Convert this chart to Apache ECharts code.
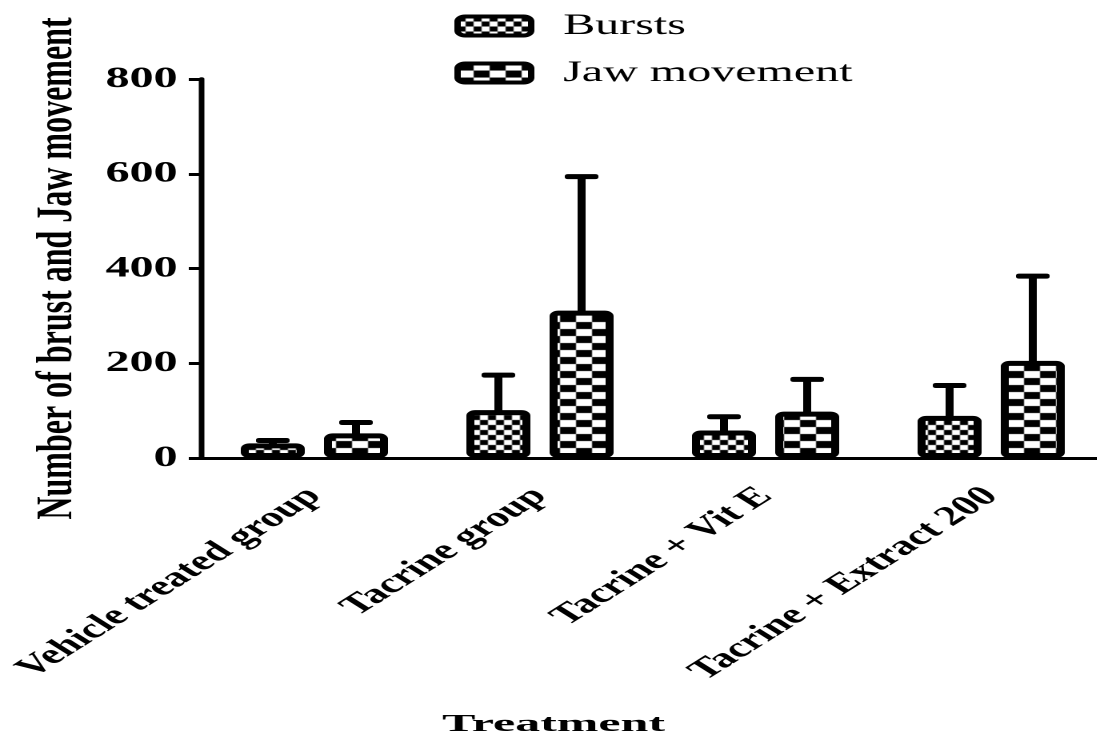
<!DOCTYPE html>
<html>
<head>
<meta charset="utf-8">
<script src="https://cdn.jsdelivr.net/npm/echarts@6/dist/echarts.min.js"></script>
<style>
  html, body { margin: 0; padding: 0; background: #fff; }
  #wrap { width: 1097px; height: 738px; overflow: hidden; position: relative; }
  /* the original figure is stretched sideways, so draw narrow and widen */
  #main { width: 686px; height: 738px; transform: scaleX(1.6); transform-origin: 0 0; }
</style>
</head>
<body>
<div id="wrap"><div id="main"></div></div>
<script>
var categories = ['Vehicle treated group', 'Tacrine group', 'Tacrine + Vit E', 'Tacrine + Extract 200'];
var burstMean = [31, 101, 58, 89];
var burstErr = [6, 74, 29, 64];
var jawMean = [52, 311, 98, 205];
var jawErr = [23, 283, 68, 179];
var yTicks = [0, 200, 400, 600, 800];

var serif = "'Liberation Serif', 'Times New Roman', serif";

function checker(w, h, cw, ch) {
    var c = document.createElement('canvas');
    c.width = w; c.height = h;
    var ctx = c.getContext('2d');
    ctx.fillStyle = '#fff';
    ctx.fillRect(0, 0, w, h);
    ctx.fillStyle = '#000';
    for (var i = 0; i * ch < h; i++) {
        for (var j = 0; j * cw < w; j++) {
            if ((i + j) % 2 === 0) ctx.fillRect(j * cw, i * ch, cw, ch);
        }
    }
    return c;
}
var burstPattern = { image: checker(10, 10, 5, 5), repeat: 'repeat' };
var jawPattern = { image: checker(20, 14, 10, 7), repeat: 'repeat' };

function errData(mean, err) {
    var out = [];
    for (var i = 0; i < mean.length; i++) out.push([i, mean[i], err[i]]);
    return out;
}

function errRender(offset) {
    return function (params, api) {
        var c = api.value(0), m = api.value(1), e = api.value(2);
        var base = api.coord([c, m]);
        var top = api.coord([c, m + e]);
        var cx = base[0] + offset;
        return {
            type: 'group',
            children: [
                { type: 'rect', shape: { x: cx - 2.5, y: top[1], width: 5, height: base[1] - top[1] + 2 }, style: { fill: '#000' } },
                { type: 'rect', shape: { x: cx - 10.5, y: top[1] - 2.5, width: 21, height: 5, r: 2 }, style: { fill: '#000' } }
            ]
        };
    };
}

var dom = document.getElementById('main');
var myChart = echarts.init(dom, null, { devicePixelRatio: 2 });

var option = {
    animation: false,
    backgroundColor: '#fff',
    legend: {
        data: ['Bursts', 'Jaw movement'],
        orient: 'vertical',
        left: 279,
        top: 6,
        itemWidth: 46,
        itemHeight: 19,
        itemGap: 17,
        icon: 'roundRect',
        itemStyle: { borderColor: '#000', borderWidth: 4 },
        textStyle: { fontFamily: serif, fontSize: 30, color: '#000', lineHeight: 30, padding: [0, 0, 0, 15] }
    },
    grid: { left: 126, top: 79, width: 564, height: 379, containLabel: false, outerBoundsMode: 'none' },
    xAxis: {
        type: 'category',
        data: categories,
        axisLine: { lineStyle: { color: '#000', width: 3 } },
        axisTick: { alignWithLabel: true, length: 9, lineStyle: { color: '#000', width: 4 } },
        axisLabel: {
            interval: 0,
            rotate: 45,
            margin: 34,
            fontFamily: serif,
            fontWeight: 'bold',
            fontSize: 28,
            color: '#000'
        }
    },
    yAxis: {
        type: 'value',
        min: yTicks[0],
        max: yTicks[yTicks.length - 1],
        interval: 200,
        name: 'Number of brust and Jaw movement',
        nameLocation: 'middle',
        nameRotate: 90,
        nameGap: 74,
        nameTextStyle: { fontFamily: serif, fontWeight: 'bold', fontSize: 32, color: '#000' },
        axisLine: { show: true, lineStyle: { color: '#000', width: 3.5 } },
        axisTick: { show: true, length: 8, lineStyle: { color: '#000', width: 3 } },
        splitLine: { show: false },
        axisLabel: { margin: 15, fontFamily: serif, fontWeight: 'bold', fontSize: 30, color: '#000' }
    },
    graphic: [{
        type: 'text',
        x: 346,
        y: 725,
        scaleX: 1.3,
        style: {
            text: 'Treatment',
            fontFamily: serif,
            fontWeight: 'bold',
            fontSize: 24,
            fill: '#000',
            align: 'center',
            verticalAlign: 'middle'
        }
    }],
    series: [
        {
            name: 'Bursts',
            type: 'bar',
            data: burstMean,
            barWidth: 40,
            barGap: '30%',
            itemStyle: { color: burstPattern, borderColor: '#000', borderWidth: 5, borderRadius: 3 }
        },
        {
            name: 'Jaw movement',
            type: 'bar',
            data: jawMean,
            barWidth: 40,
            barGap: '30%',
            itemStyle: { color: jawPattern, borderColor: '#000', borderWidth: 5, borderRadius: 3 }
        },
        {
            type: 'custom',
            name: 'burstErr',
            renderItem: errRender(-26),
            data: errData(burstMean, burstErr),
            z: 3
        },
        {
            type: 'custom',
            name: 'jawErr',
            renderItem: errRender(26),
            data: errData(jawMean, jawErr),
            z: 3
        }
    ]
};
myChart.setOption(option);
</script>
</body>
</html>
